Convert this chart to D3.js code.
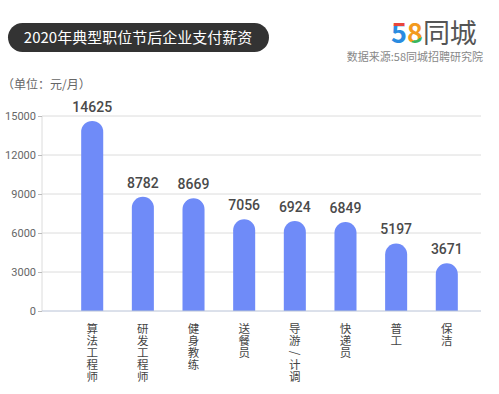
<!DOCTYPE html>
<html>
<head>
<meta charset="utf-8">
<style>
  body { margin: 0; background: #fff; }
  svg { display: block; font-family: "Noto Sans CJK SC", "Noto Sans", sans-serif; }
</style>
</head>
<body>
<script src="https://d3js.org/d3.v7.min.js"></script>
<script>

  // chart data
  var jobs = ["算法工程师", "研发工程师", "健身教练", "送餐员", "导游/计调", "快递员", "普工", "保洁"];
  var salaries = [14625, 8782, 8669, 7056, 6924, 6849, 5197, 3671];
  var yTicks = [0, 3000, 6000, 9000, 12000, 15000];

  var width = 499;
  var height = 394;

  var svg = d3.select("body")
      .append("svg")
      .attr("width", width)
      .attr("height", height);

  // title pill
  svg.append("rect")
      .attr("x", 8).attr("y", 23)
      .attr("width", 261).attr("height", 29)
      .attr("rx", 14.5)
      .attr("fill", "#333");

  svg.append("text")
      .attr("x", 138).attr("y", 43)
      .attr("text-anchor", "middle")
      .attr("fill", "#fff")
      .style("font-size", "15px")
      .text("2020年典型职位节后企业支付薪资");

  // logo
  var defs = svg.append("defs");
  var g5 = defs.append("linearGradient").attr("id", "g5")
      .attr("x1", 0).attr("y1", 0).attr("x2", 0).attr("y2", 1);
  g5.append("stop").attr("offset", "0.35").attr("stop-color", "#e8453c");
  g5.append("stop").attr("offset", "0.35").attr("stop-color", "#2a8be0");
  var g8 = defs.append("linearGradient").attr("id", "g8")
      .attr("x1", 0).attr("y1", 0).attr("x2", 1).attr("y2", 1);
  g8.append("stop").attr("offset", "0.5").attr("stop-color", "#f39a1e");
  g8.append("stop").attr("offset", "0.5").attr("stop-color", "#3cb55a");

  var logo = svg.append("text")
      .attr("x", 391).attr("y", 43)
      .style("font-size", "27px")
      .style("font-weight", "bold");
  logo.append("tspan").attr("fill", "url(#g5)").text("5");
  logo.append("tspan").attr("fill", "url(#g8)").text("8");
  logo.append("tspan").attr("fill", "#555").style("font-weight", "normal").text("同城");

  svg.append("text")
      .attr("x", 483).attr("y", 61)
      .attr("text-anchor", "end")
      .attr("fill", "#888")
      .style("font-size", "11px")
      .text("数据来源:58同城招聘研究院");

  svg.append("text")
      .attr("x", 2).attr("y", 89)
      .attr("fill", "#666")
      .style("font-size", "12px")
      .text("（单位：元/月）");

  // scales
  var x = d3.scaleBand()
      .domain(jobs)
      .range([67, 472])
      .paddingInner(0.565)
      .paddingOuter(0.28);

  var y = d3.scaleLinear()
      .domain([0, 15000])
      .range([311, 116]);

  // grid
  svg.append("g")
      .selectAll("line")
      .data(yTicks.slice(1))
      .enter()
          .append("line")
          .attr("x1", 42).attr("x2", 481)
          .attr("y1", function (d) { return y(d); })
          .attr("y2", function (d) { return y(d); })
          .attr("stroke", "#dcdcdc");

  svg.append("line")
      .attr("x1", 42).attr("x2", 42)
      .attr("y1", y(15000)).attr("y2", y(0))
      .attr("stroke", "#dcdcdc");

  var yAxis = svg.append("g")
      .attr("transform", "translate(42,0)")
      .call(d3.axisLeft(y).tickValues(yTicks).tickFormat(d3.format("d"))
            .tickSize(4).tickPadding(2));
  yAxis.select(".domain").remove();
  yAxis.selectAll("line").attr("stroke", "#bbb");
  yAxis.selectAll("text")
      .attr("fill", "#666")
      .style("font-size", "11px")
      .style("font-family", "Roboto, sans-serif");

  // bars with round tops
  var bw = x.bandwidth();
  var r = bw / 2;

  svg.append("g")
      .selectAll("path")
      .data(salaries)
      .enter()
          .append("path")
          .attr("fill", "#6f8bf8")
          .attr("d", function (d, i) {
            var x0 = x(jobs[i]);
            var top = y(d);
            var bottom = y(0);
            return "M" + x0 + "," + bottom +
                   "V" + (top + r) +
                   "A" + r + "," + r + " 0 0 1 " + (x0 + bw) + "," + (top + r) +
                   "V" + bottom + "Z";
          });

  // baseline
  svg.append("line")
      .attr("x1", 42).attr("x2", 481)
      .attr("y1", y(0)).attr("y2", y(0))
      .attr("stroke", "#b8c2d6");

  // value labels
  svg.append("g")
      .selectAll("text")
      .data(salaries)
      .enter()
          .append("text")
          .attr("x", function (d, i) { return x(jobs[i]) + bw / 2; })
          .attr("y", function (d) { return y(d) - 9; })
          .attr("text-anchor", "middle")
          .attr("fill", "#4a4a4a")
          .style("font-size", "14px")
          .style("font-family", "Roboto, sans-serif")
          .style("font-weight", "500")
          .text(function (d) { return d; });

  // vertical category labels, one glyph per line
  jobs.forEach(function (name) {
    var cx = x(name) + bw / 2;
    name.split("").forEach(function (ch, k) {
      var cy = 329 + k * 12;
      var t = svg.append("text")
          .attr("text-anchor", "middle")
          .attr("dy", "0.35em")
          .attr("fill", "#444")
          .style("font-size", "11.5px")
          .text(ch);
      if (ch === "/") {
        t.attr("transform", "translate(" + cx + "," + cy + ") rotate(90)");
      } else {
        t.attr("x", cx).attr("y", cy);
      }
    });
  });

</script>
</body>
</html>
